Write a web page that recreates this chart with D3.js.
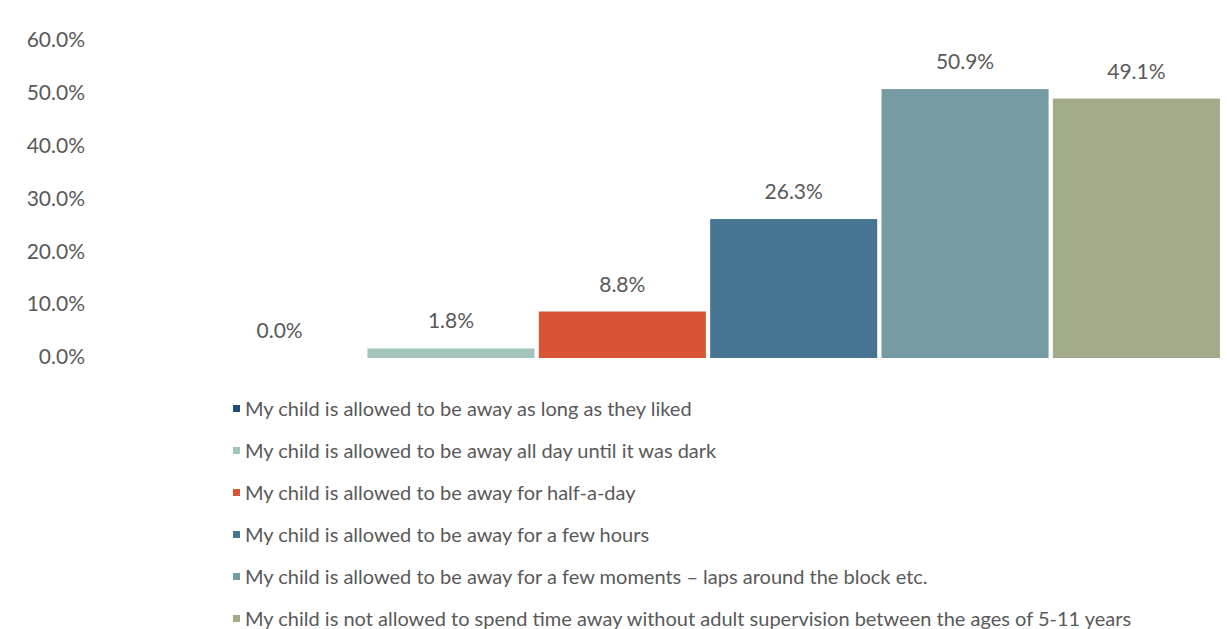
<!DOCTYPE html>
<html>
<head>
<meta charset="utf-8">
<script src="https://cdn.jsdelivr.net/npm/d3@7"></script>
<style>
  html, body { margin: 0; padding: 0; background: #fff; }
  svg { display: block; font-family: Lato, "Open Sans", sans-serif; }
</style>
</head>
<body>
<svg id="chart" width="1227" height="629"></svg>
<script>
// How long children are allowed to be away without adult supervision
const categories = [
  "My child is allowed to be away as long as they liked",
  "My child is allowed to be away all day until it was dark",
  "My child is allowed to be away for half-a-day",
  "My child is allowed to be away for a few hours",
  "My child is allowed to be away for a few moments \u2013 laps around the block etc.",
  "My child is not allowed to spend time away without adult supervision between the ages of 5-11 years"
];
const values = [0.0, 1.8, 8.8, 26.3, 50.9, 49.1];
const colors = ["#1f4e79", "#a2c4bc", "#d95335", "#467592", "#769ba3", "#a2ab87"];
const yTicks = [0, 10, 20, 30, 40, 50, 60];

const svg = d3.select("#chart");

const x = d3.scaleBand()
  .domain(categories)
  .range([194, 1222])
  .paddingInner(0.025)
  .paddingOuter(0.012);

const y = d3.scaleLinear()
  .domain([0, 60])
  .range([358, 41]);

// Y axis: labels only, no line or ticks
const yAxis = d3.axisLeft(y)
  .tickValues(yTicks)
  .tickFormat(d => d.toFixed(1) + "%")
  .tickSize(0)
  .tickPadding(0);

const gy = svg.append("g")
  .attr("transform", "translate(85,-1)")
  .call(yAxis);
gy.select(".domain").remove();
gy.selectAll("text")
  .attr("fill", "#595959")
  .style("font-size", "21px")
  .style("font-family", "Lato, 'Open Sans', sans-serif");

// Bars
svg.append("g")
  .selectAll("rect")
  .data(categories)
  .join("rect")
  .attr("x", d => x(d))
  .attr("width", x.bandwidth())
  .attr("y", (d, i) => y(values[i]))
  .attr("height", (d, i) => y(0) - y(values[i]))
  .attr("fill", (d, i) => colors[i]);

// Value labels above bars
svg.append("g")
  .selectAll("text")
  .data(categories)
  .join("text")
  .attr("x", d => x(d) + x.bandwidth() / 2)
  .attr("y", (d, i) => y(values[i]) - 20)
  .attr("text-anchor", "middle")
  .attr("fill", "#595959")
  .style("font-size", "21px")
  .text((d, i) => values[i].toFixed(1) + "%");

// Legend
const legend = svg.append("g")
  .selectAll("g")
  .data(categories)
  .join("g")
  .attr("transform", (d, i) => `translate(233,${409 + i * 42})`);

legend.append("rect")
  .attr("x", 0)
  .attr("y", -4)
  .attr("width", 7)
  .attr("height", 7)
  .attr("fill", (d, i) => colors[i]);

legend.append("text")
  .attr("x", 12)
  .attr("y", 0)
  .attr("dy", "0.35em")
  .attr("fill", "#595959")
  .style("font-size", "20px")
  .text(d => d);
</script>
</body>
</html>
